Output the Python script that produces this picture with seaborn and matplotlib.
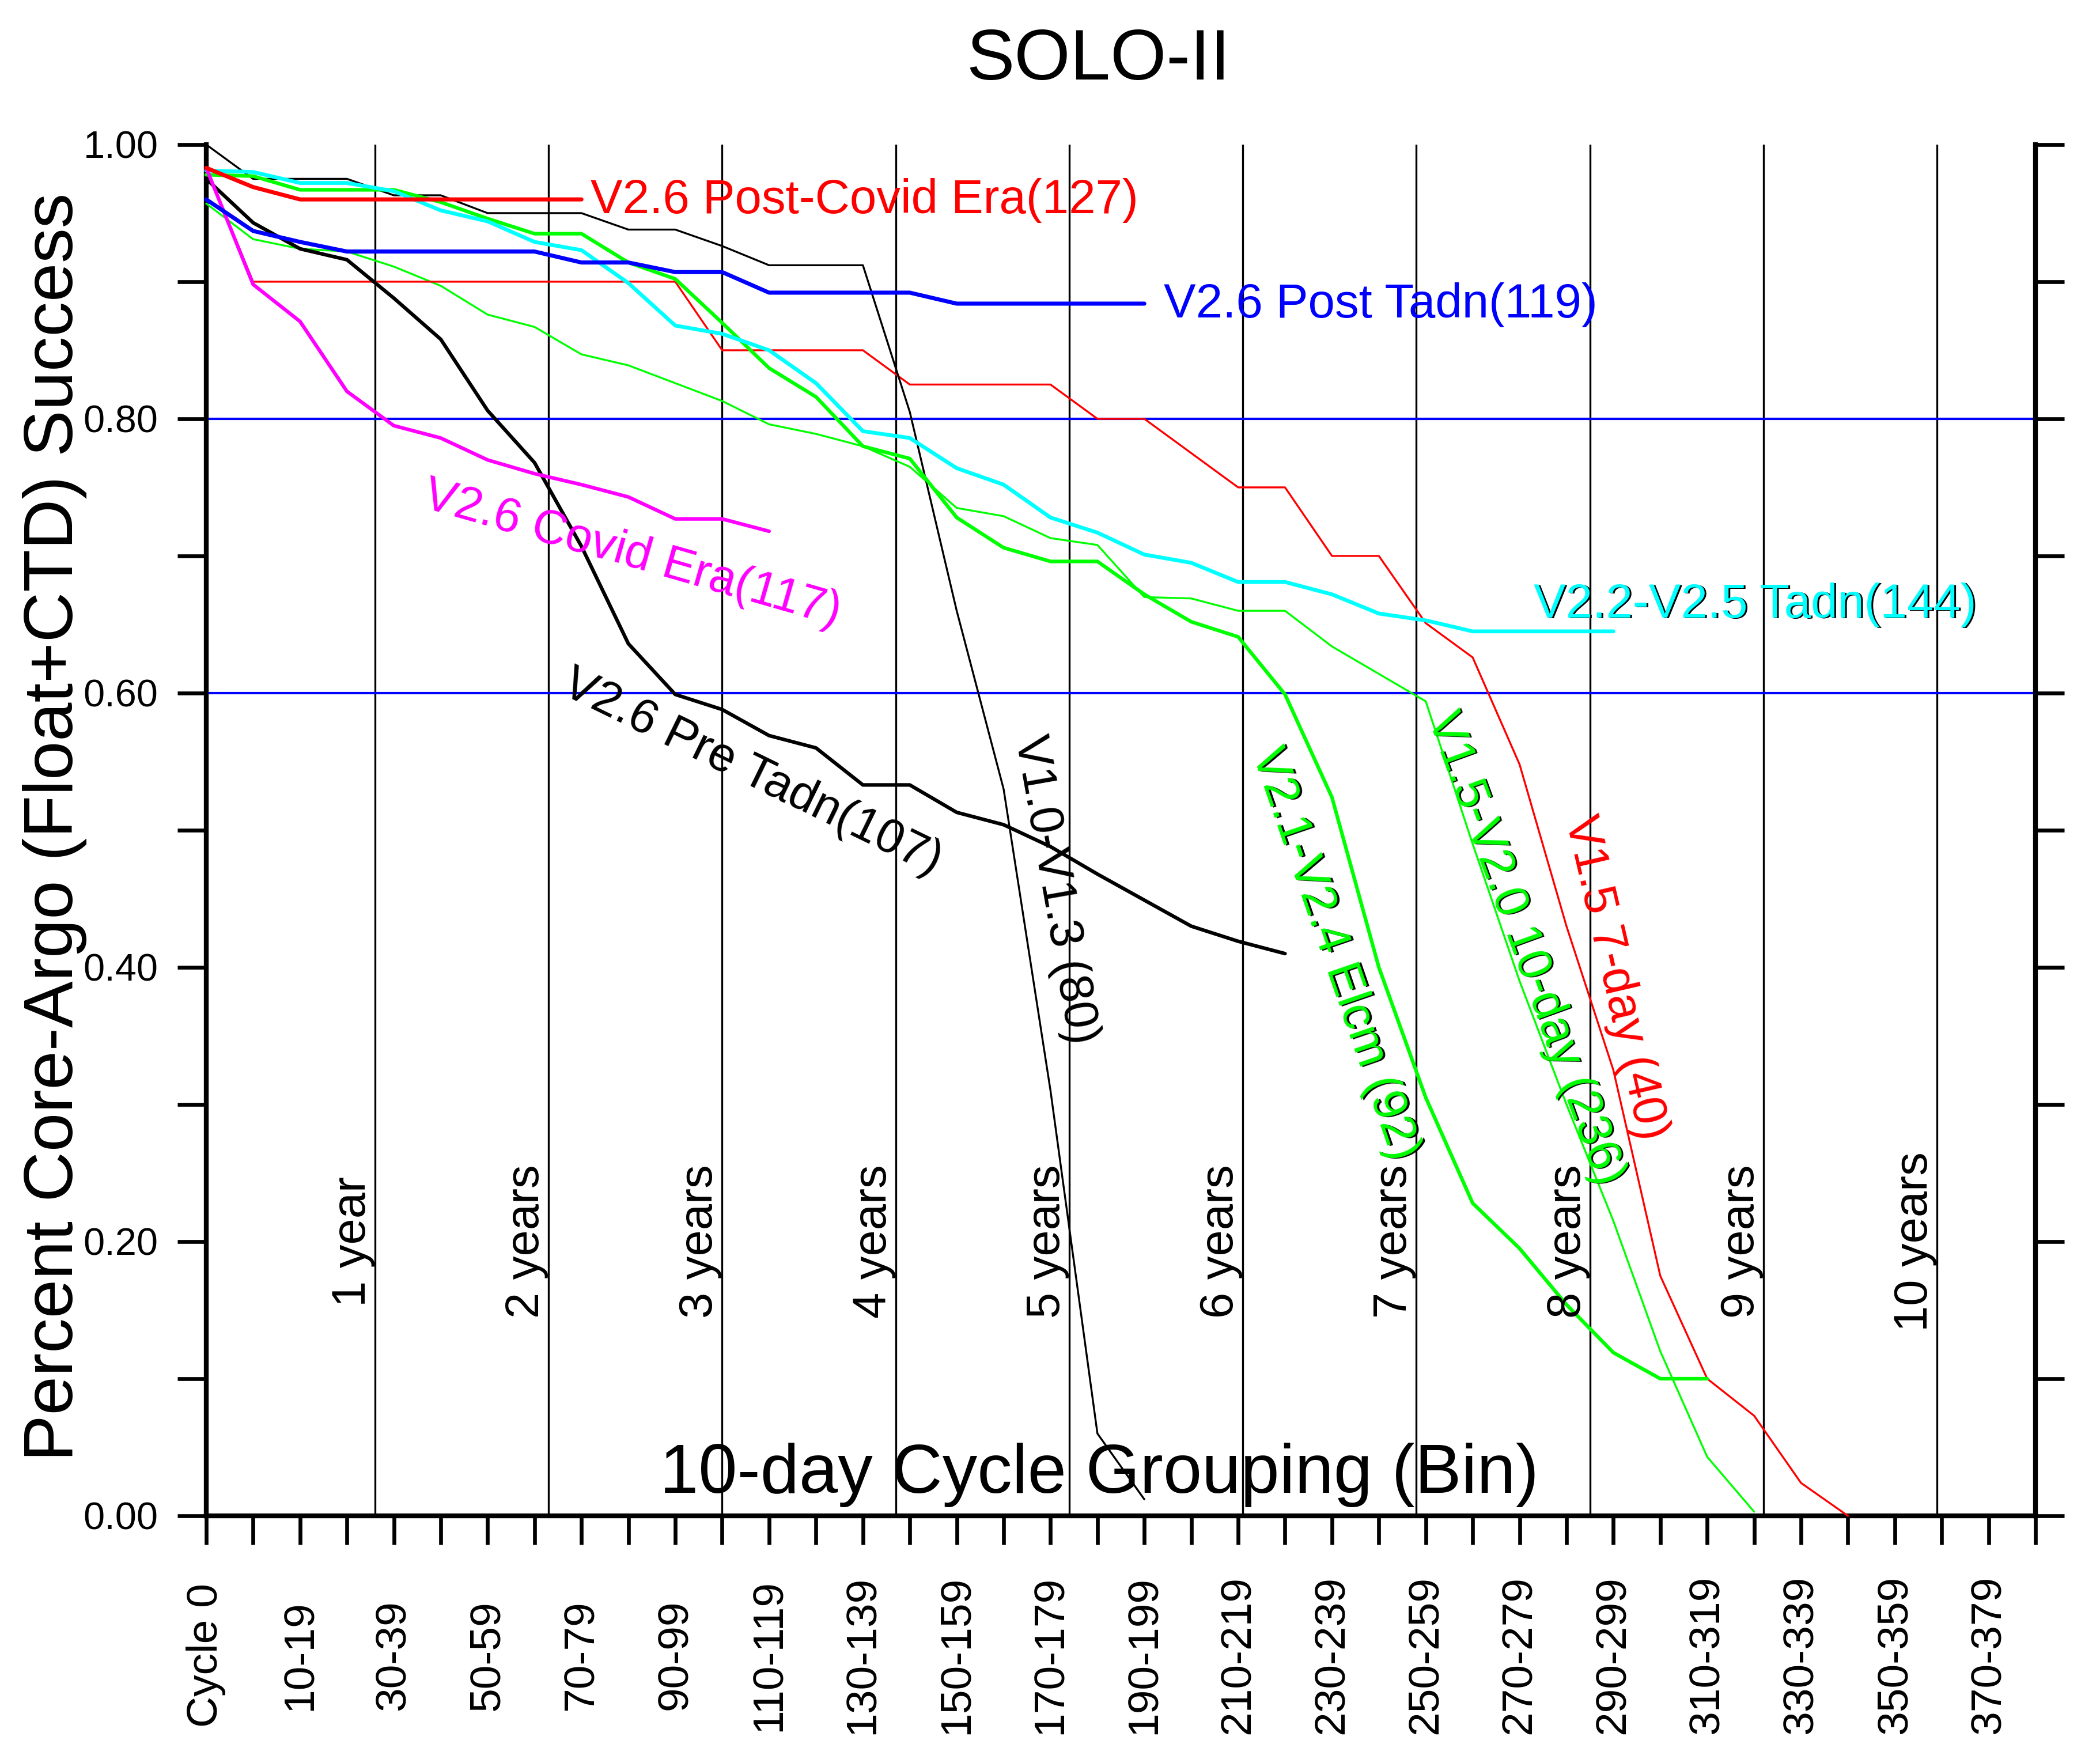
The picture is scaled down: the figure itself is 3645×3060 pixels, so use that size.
import numpy as np
import pandas as pd
import matplotlib
matplotlib.use("Agg")
import matplotlib.pyplot as plt
import matplotlib.transforms as mtransforms
from matplotlib.ticker import FixedLocator, MultipleLocator, FormatStrFormatter
import seaborn as sns

# Success fraction per 10-day cycle bin (bin 0 = cycle 0)
post_covid = [0.983, 0.969, 0.960, 0.960, 0.960, 0.960, 0.960, 0.960, 0.960]
post_tadn = [0.960, 0.937, 0.929, 0.922, 0.922, 0.922, 0.922, 0.922, 0.914, 0.914,
             0.907, 0.907, 0.892, 0.892, 0.892, 0.892, 0.884, 0.884, 0.884, 0.884, 0.884]
covid_era = [0.983, 0.898, 0.871, 0.820, 0.795, 0.786, 0.770, 0.760, 0.752, 0.743,
             0.727, 0.727, 0.718]
pre_tadn = [0.975, 0.943, 0.924, 0.916, 0.888, 0.858, 0.806, 0.768, 0.707, 0.636,
            0.599, 0.588, 0.569, 0.560, 0.533, 0.533, 0.513, 0.504, 0.488, 0.468,
            0.449, 0.430, 0.419, 0.410]
v10_v13 = [1.000, 0.975, 0.975, 0.975, 0.963, 0.963, 0.950, 0.950, 0.950, 0.938,
           0.938, 0.926, 0.912, 0.912, 0.912, 0.805, 0.660, 0.530, 0.310, 0.060, 0.012]
v22_v25 = [0.981, 0.980, 0.972, 0.972, 0.966, 0.952, 0.944, 0.929, 0.923, 0.899,
           0.868, 0.862, 0.850, 0.826, 0.791, 0.786, 0.764, 0.752, 0.728, 0.717,
           0.701, 0.695, 0.681, 0.681, 0.672, 0.658, 0.653, 0.645, 0.645, 0.645, 0.645]
v21_v24 = [0.978, 0.977, 0.967, 0.967, 0.967, 0.958, 0.946, 0.935, 0.935, 0.914,
           0.902, 0.870, 0.837, 0.816, 0.780, 0.771, 0.728, 0.706, 0.696, 0.696,
           0.672, 0.652, 0.641, 0.599, 0.524, 0.400, 0.305, 0.228, 0.195, 0.154,
           0.119, 0.100, 0.100]
v15_v20 = [0.957, 0.931, 0.924, 0.922, 0.911, 0.897, 0.876, 0.867, 0.847, 0.839,
           0.826, 0.813, 0.796, 0.789, 0.780, 0.765, 0.735, 0.729, 0.713, 0.708,
           0.670, 0.669, 0.660, 0.660, 0.634, 0.614, 0.594, 0.490, 0.390, 0.300,
           0.215, 0.120, 0.043, 0.003]
v15_7day = [0.983, 0.900, 0.900, 0.900, 0.900, 0.900, 0.900, 0.900, 0.900, 0.900,
            0.900, 0.850, 0.850, 0.850, 0.850, 0.825, 0.825, 0.825, 0.825, 0.800,
            0.800, 0.775, 0.750, 0.750, 0.700, 0.700, 0.651, 0.626, 0.548, 0.430,
            0.325, 0.175, 0.100, 0.073, 0.024, 0.000]

xtick_labels = ["Cycle 0", "10-19", "30-39", "50-59", "70-79", "90-99", "110-119",
                "130-139", "150-159", "170-179", "190-199", "210-219", "230-239",
                "250-259", "270-279", "290-299", "310-319", "330-339", "350-359",
                "370-379"]
year_bins = [3.6, 7.3, 11.0, 14.7, 18.4, 22.1, 25.8, 29.5, 33.2, 36.9]
year_labels = ["1 year", "2 years", "3 years", "4 years", "5 years",
               "6 years", "7 years", "8 years", "9 years", "10 years"]
guide_levels = [0.8, 0.6]

# name -> (values, colour, line width)
styles = {
    "V1.5-V2.0 10-day": (v15_v20, "#00ff00", 0.8),
    "V1.5 7-day": (v15_7day, "#ff0000", 0.8),
    "V1.0-V1.3": (v10_v13, "black", 0.8),
    "V2.1-V2.4 Elcm": (v21_v24, "#00ff00", 1.5),
    "V2.2-V2.5 Tadn": (v22_v25, "#00ffff", 1.6),
    "V2.6 Pre Tadn": (pre_tadn, "black", 1.5),
    "V2.6 Covid Era": (covid_era, "#ff00ff", 1.5),
    "V2.6 Post Tadn": (post_tadn, "#0000ff", 1.7),
    "V2.6 Post-Covid Era": (post_covid, "#ff0000", 1.7),
}

frames = []
for name, (vals, _, _) in styles.items():
    frames.append(pd.DataFrame({"bin": np.arange(len(vals)), "success": vals, "series": name}))
df = pd.concat(frames, ignore_index=True)

sns.set_style("white", rc={"axes.edgecolor": "black", "xtick.color": "black",
                           "ytick.color": "black", "text.color": "black"})
plt.rcParams["font.family"] = ["Liberation Sans", "DejaVu Sans"]

fig = plt.figure(figsize=(12.15, 10.2), dpi=300)
ax = fig.add_axes([0.0982, 0.1402, 0.8711, 0.7778])

for yb in year_bins:
    ax.axvline(yb, color="black", lw=0.8, zorder=1)
for lev in guide_levels:
    ax.axhline(lev, color="#0000ff", lw=1.0, zorder=1)

for name, (_, color, lw) in styles.items():
    sub = df[df["series"] == name]
    sns.lineplot(data=sub, x="bin", y="success", color=color, lw=lw, ax=ax,
                 estimator=None, sort=False, clip_on=False, zorder=3)

ax.set_xlim(0, 39)
ax.set_ylim(0, 1)
ax.set_xlabel("")
ax.set_ylabel("")

ax.xaxis.set_major_locator(FixedLocator(np.arange(0, 39, 2)))
ax.xaxis.set_minor_locator(FixedLocator(np.arange(1, 40, 2)))
ax.set_xticklabels(xtick_labels)
ax.yaxis.set_major_locator(MultipleLocator(0.2))
ax.yaxis.set_minor_locator(MultipleLocator(0.1))
ax.yaxis.set_major_formatter(FormatStrFormatter("%.2f"))

ax.tick_params(axis="both", which="both", direction="out", length=12, width=1.6, color="black")
ax.tick_params(axis="y", which="both", left=True, right=True, labelsize=16, pad=8)
ax.tick_params(axis="x", which="both", bottom=True, top=False, labelsize=18, pad=46,
               labelrotation=90)
for lbl in ax.get_xticklabels():
    lbl.set_va("center")
    lbl.set_ha("center")

ax.spines["top"].set_visible(False)
for side in ["left", "right", "bottom"]:
    ax.spines[side].set_linewidth(2.0)
    ax.spines[side].set_color("black")

# year markers
for yb, txt in zip(year_bins, year_labels):
    ax.text(yb, 0.2, txt, rotation=90, ha="right", va="center", fontsize=19.5)

# series labels: text, x, y, rotation, colour, shadowed
labels = [
    ("V2.6 Post-Covid Era(127)", 8.19, 0.950, 0, "#ff0000", False),
    ("V2.6 Post Tadn(119)", 20.41, 0.874, 0, "#0000ff", False),
    ("V2.2-V2.5 Tadn(144)", 28.3, 0.655, 0, "#00ffff", True),
    ("V2.6 Covid Era(117)", 4.58, 0.736, -16, "#ff00ff", False),
    ("V2.6 Pre Tadn(107)", 7.53, 0.600, -26, "black", False),
    ("V1.0-V1.3 (80)", 17.26, 0.567, -80, "black", False),
    ("V2.1-V2.4 Elcm (92)", 22.3, 0.556, -71, "#00ff00", True),
    ("V1.5-V2.0 10-day (236)", 26.04, 0.582, -70, "#00ff00", True),
    ("V1.5 7-day (40)", 28.98, 0.508, -77, "#ff0000", False),
]
shadow = mtransforms.offset_copy(ax.transData, fig=fig, x=0.8, y=-0.3, units="points")
for txt, x, y, rot, color, shadowed in labels:
    kw = dict(rotation=rot, rotation_mode="anchor", ha="left", va="baseline",
              fontsize=20, zorder=5)
    if shadowed:
        ax.text(x, y, txt, color="black", transform=shadow, **kw)
    ax.text(x, y, txt, color=color, **kw)

ax.text(19.04, 0.017, "10-day Cycle Grouping (Bin)", ha="center", va="baseline",
        fontsize=29, zorder=5)
fig.text(0.026, 0.531, "Percent Core-Argo (Float+CTD) Success", rotation=90,
         ha="center", va="center", fontsize=29)
fig.text(0.523, 0.955, "SOLO-II", ha="center", va="baseline", fontsize=30)

fig.savefig("out.png", dpi=300)
